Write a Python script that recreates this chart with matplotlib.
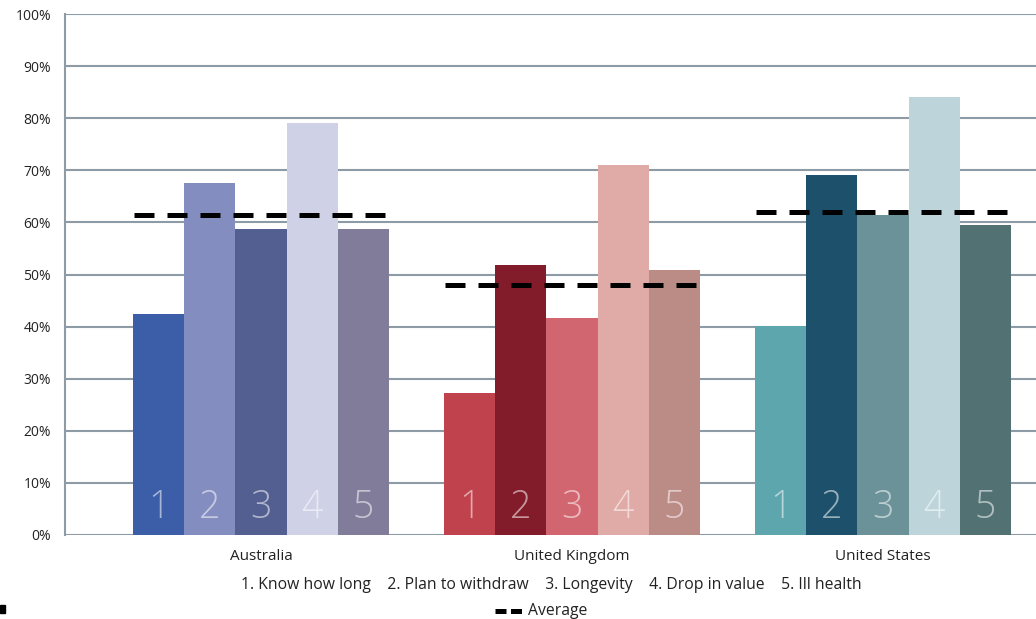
import matplotlib
matplotlib.use("Agg")
import matplotlib.pyplot as plt
from matplotlib.lines import Line2D
from matplotlib.patches import Rectangle
import numpy as np

plt.rcParams['font.family'] = ['Open Sans', 'DejaVu Sans']

countries = ["Australia", "United Kingdom", "United States"]
series_labels = ["1. Know how long", "2. Plan to withdraw", "3. Longevity", "4. Drop in value", "5. Ill health"]
bar_numbers = ["1", "2", "3", "4", "5"]
values = {
    "Australia":      [42.4, 67.6, 58.7, 79.1, 58.7],
    "United Kingdom": [27.3, 51.8, 41.7, 71.0, 50.9],
    "United States":  [40.1, 69.1, 61.4, 84.1, 59.5],
}
averages = [61.4, 48.0, 62.0]
yticks = [0, 10, 20, 30, 40, 50, 60, 70, 80, 90, 100]
colors = {
    "Australia":      ["#3c5ea8", "#838dc0", "#535f90", "#cfd1e6", "#807c9a"],
    "United Kingdom": ["#c0424c", "#831c2a", "#d26670", "#e0aba7", "#bb8b86"],
    "United States":  ["#5ea6ad", "#1d516b", "#6b9299", "#bdd5da", "#527173"],
}

fig = plt.figure(figsize=(10.36, 6.19), dpi=100)
ax = fig.add_axes([65/1036, 1-535/619, 1-65/1036, (535-14)/619])

grid_c = "#8c9ba6"
w = 0.164
for gi, c in enumerate(countries):
    for bi, v in enumerate(values[c]):
        x = gi + (bi - 2) * w
        ax.bar(x, v, width=w, color=colors[c][bi], zorder=3, linewidth=0)
        ax.text(x, 1.5, bar_numbers[bi], ha='center', va='bottom', fontsize=27,
                color='white', alpha=0.55, zorder=4, fontweight='light')
    ax.plot([gi - 2.5 * w + 0.002, gi + 2.5 * w - 0.005], [averages[gi]] * 2, color='black',
            lw=3.6, dashes=(4, 2.6), solid_capstyle='butt', dash_capstyle='butt', zorder=5)

ax.set_xlim(-196/311, (1036-261)/311)
ax.set_ylim(0, 100)
ax.set_yticks(yticks)
ax.set_yticklabels([f"{t}%" for t in yticks], fontsize=10, color="#222222")
ax.tick_params(axis='y', length=0, pad=10)
ax.set_xticks(range(3))
ax.set_xticklabels(countries, fontsize=11, color="#222222")
ax.tick_params(axis='x', length=0, pad=10)
ax.grid(axis='y', color=grid_c, lw=1.5, zorder=1)
for s in ['top', 'right', 'bottom']:
    ax.spines[s].set_visible(False)
ax.spines['left'].set_color(grid_c)
ax.spines['left'].set_linewidth(1.5)

fig.text(551/1036, 1-585/619, "    ".join(series_labels), ha='center', va='center',
         fontsize=11.3, color="#222222")
fig.add_artist(Line2D([495/1036, 522/1036], [1-611/619] * 2, color='black', lw=3.6,
                      dashes=(2.2, 0.9), solid_capstyle='butt', dash_capstyle='butt'))
fig.text(528/1036, 1-611/619, "Average", ha='left', va='center', fontsize=11.3, color="#222222")
fig.add_artist(Rectangle((0, 1-613/619), 5/1036, 8/619, color='black', transform=fig.transFigure))

fig.savefig("out.png", dpi=100)
